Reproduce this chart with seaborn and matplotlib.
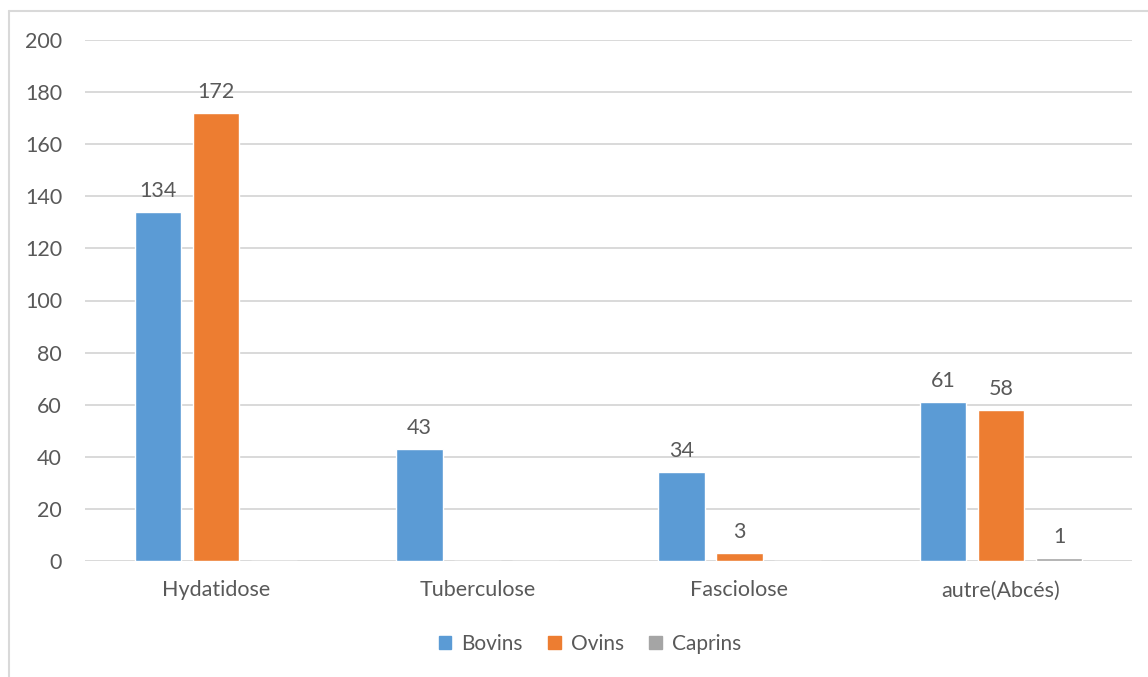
import matplotlib
matplotlib.use("Agg")
import matplotlib.pyplot as plt
from matplotlib.lines import Line2D
import seaborn as sns
import pandas as pd

# Lesions recorded per species
categories = ["Hydatidose", "Tuberculose", "Fasciolose", "autre(Abcés)"]
series = ["Bovins", "Ovins", "Caprins"]
bovins = [134, 43, 34, 61]
ovins = [172, 0, 3, 58]
caprins = [0, 0, 0, 1]
y_ticks = [0, 20, 40, 60, 80, 100, 120, 140, 160, 180, 200]

colors = {"Bovins": "#5B9BD5", "Ovins": "#ED7D31", "Caprins": "#A5A5A5"}
text_color = "#595959"
grid_color = "#D9D9D9"

rows = []
for name, values in zip(series, [bovins, ovins, caprins]):
    for cat, v in zip(categories, values):
        rows.append({"Lésion": cat, "Espèce": name, "Nombre": v})
df = pd.DataFrame(rows)

sns.set_theme(style="white")
plt.rcParams["font.family"] = ["Lato", "DejaVu Sans"]

fig = plt.figure(figsize=(11.48, 6.77), dpi=100)
ax = fig.add_axes([85 / 1148, 1 - 561 / 677, (1132 - 85) / 1148, (561 - 40) / 677])

sns.barplot(data=df, x="Lésion", y="Nombre", hue="Espèce", order=categories,
            hue_order=series, palette=colors, width=0.665, gap=0.2,
            saturation=1, legend=False, ax=ax, errorbar=None)

# value labels above each non-empty bar
for container, values in zip(ax.containers, [bovins, ovins, caprins]):
    labels = [str(v) if v else "" for v in values]
    ax.bar_label(container, labels=labels, padding=8, fontsize=15.5, color=text_color)

ax.set_ylim(0, 200)
ax.set_xlim(-0.5, 3.5)
ax.set_yticks(y_ticks)
ax.set_xlabel("")
ax.set_ylabel("")
ax.yaxis.grid(True, color=grid_color, linewidth=1.4)
ax.set_axisbelow(True)
for s in ax.spines.values():
    s.set_visible(False)
ax.tick_params(axis="y", length=0, pad=16.5, labelsize=15.5, labelcolor=text_color)
ax.tick_params(axis="x", length=0, pad=14, labelsize=15.5, labelcolor=text_color)

# legend below the plot area
handles = [plt.Rectangle((0, 0), 1, 1, color=colors[s]) for s in series]
fig.legend(handles, series, loc="center", bbox_to_anchor=(590 / 1148, 1 - 644 / 677),
           ncol=3, frameon=False, fontsize=15, labelcolor=text_color,
           handlelength=0.6, handleheight=0.6, handletextpad=0.5,
           columnspacing=1.2)

# chart area frame
fig.add_artist(Line2D([9 / 1148, 1], [1 - 10.5 / 677, 1 - 10.5 / 677],
                      transform=fig.transFigure, color=grid_color, linewidth=1.5))
fig.add_artist(Line2D([9 / 1148, 9 / 1148], [0, 1 - 10.5 / 677],
                      transform=fig.transFigure, color=grid_color, linewidth=1.5))

fig.savefig("out.png", dpi=100, facecolor="white")
